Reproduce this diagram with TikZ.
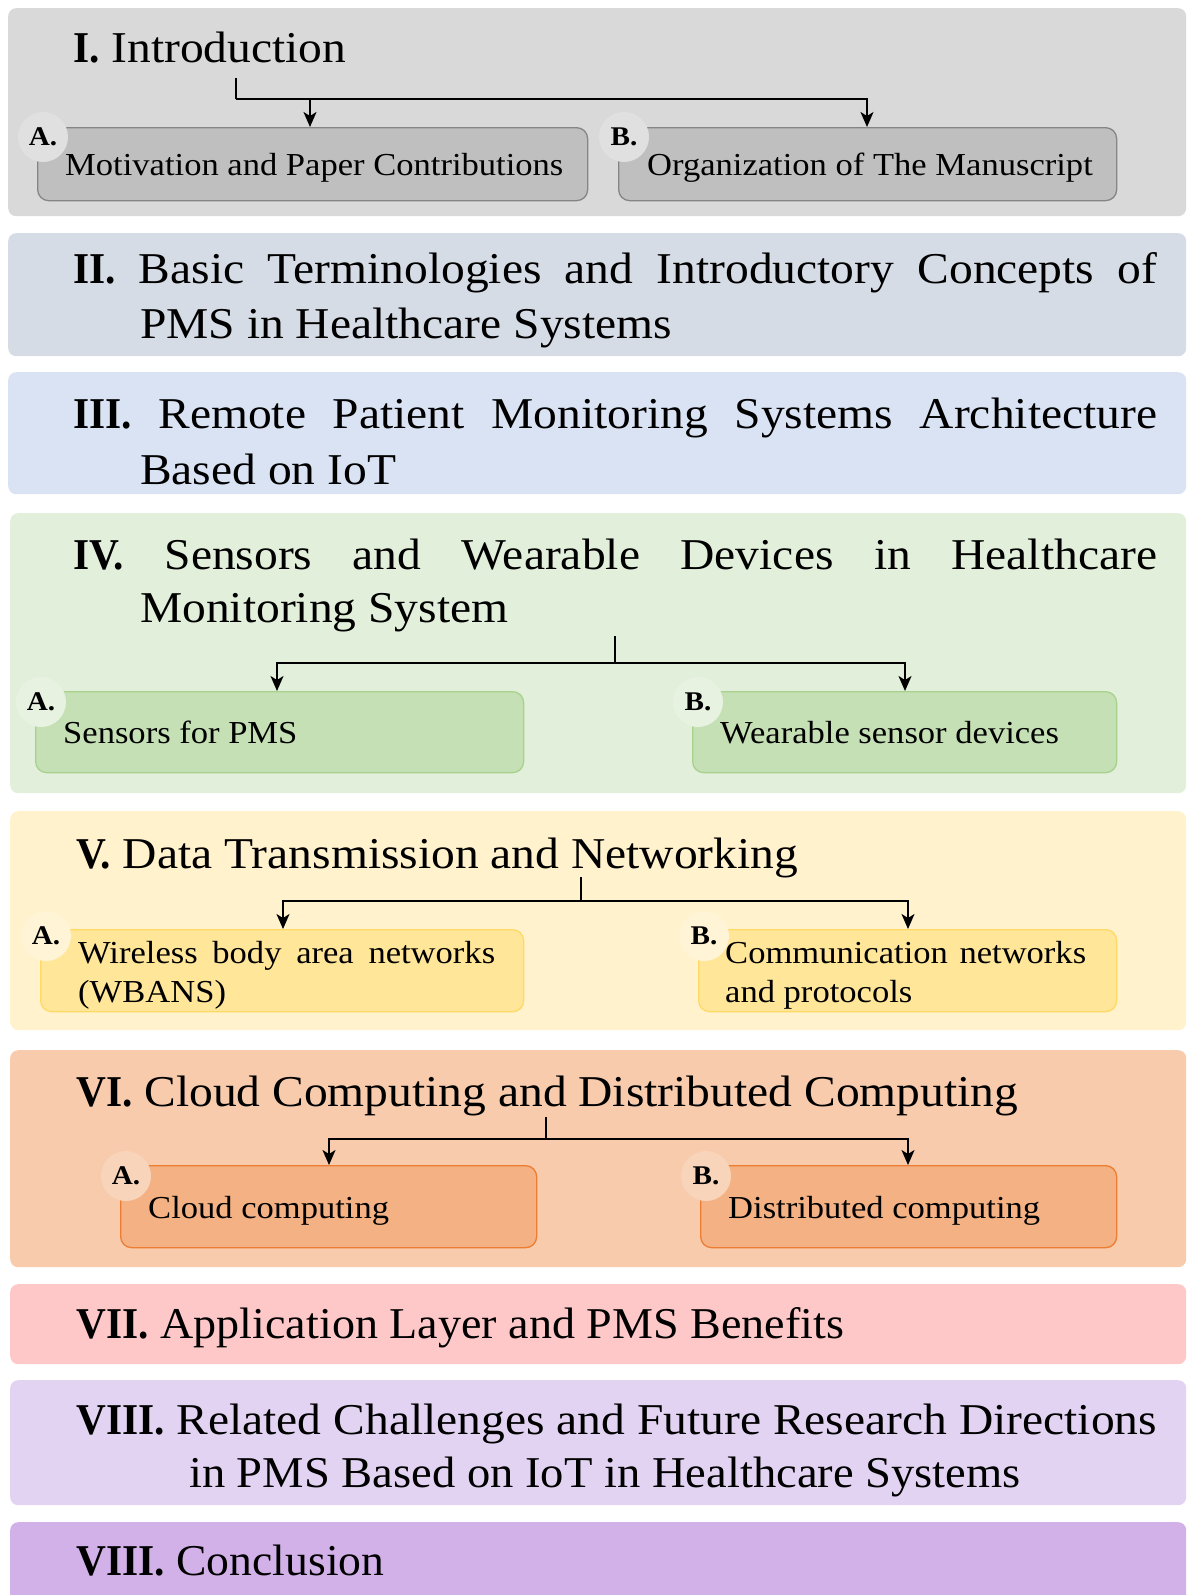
\documentclass[tikz,border=0pt]{standalone}
\usepackage{fontspec}
\setmainfont{Liberation Serif}[FakeStretch=1.08]
\usetikzlibrary{arrows.meta,calc}

% section colours
\definecolor{bgI}{HTML}{D9D9D9}\definecolor{subI}{HTML}{BFBFBF}\definecolor{lnI}{HTML}{858585}
\definecolor{bgII}{HTML}{D6DCE5}
\definecolor{bgIII}{HTML}{DAE3F3}
\definecolor{bgIV}{HTML}{E2EFDA}\definecolor{subIV}{HTML}{C5E0B4}\definecolor{lnIV}{HTML}{A9D18E}
\definecolor{bgV}{HTML}{FFF2CC}\definecolor{subV}{HTML}{FFE699}\definecolor{lnV}{HTML}{FFD966}
\definecolor{bgVI}{HTML}{F7CBAC}\definecolor{subVI}{HTML}{F4B183}\definecolor{lnVI}{HTML}{ED7D31}
\definecolor{bgVII}{HTML}{FEC8C8}
\definecolor{bgVIII}{HTML}{E3D3F2}
\definecolor{bgIX}{HTML}{D2B0E8}

% bold section numbers, set a little narrower than the body text
\newcommand{\secno}[1]{\scalebox{0.87}[1]{\textbf{#1}}}

\tikzset{
  secbox/.style={rectangle, rounded corners=8pt, draw=none, anchor=north west, inner sep=0pt},
  subbox/.style={rectangle, rounded corners=11pt, line width=1.3pt, anchor=north west, inner sep=0pt},
  lab/.style={circle, minimum size=50pt, inner sep=0pt, draw=none,
              font=\fontsize{27}{27}\selectfont\bfseries},
  conn/.style={line width=1.7pt},
  arr/.style={conn, -{Stealth[length=15pt,width=13pt,inset=4pt]}},
  ttl/.style={anchor=base west, inner sep=0pt, font=\fontsize{44}{53}\selectfont},
  stxt/.style={anchor=base west, inner sep=0pt, font=\fontsize{32}{39}\selectfont},
}

\begin{document}
\begin{tikzpicture}[x=1pt,y=-1pt]
\useasboundingbox (0,0) rectangle (1188,1595);

% ---------- section backgrounds ----------
\node[secbox, fill=bgI,    minimum width=1178pt, minimum height=208pt] (s1) at (8,8) {};
\node[secbox, fill=bgII,   minimum width=1178pt, minimum height=123pt] (s2) at (8,233) {};
\node[secbox, fill=bgIII,  minimum width=1178pt, minimum height=122pt] (s3) at (8,372) {};
\node[secbox, fill=bgIV,   minimum width=1176pt, minimum height=280pt] (s4) at (10,513) {};
\node[secbox, fill=bgV,    minimum width=1176pt, minimum height=219pt] (s5) at (10,811) {};
\node[secbox, fill=bgVI,   minimum width=1176pt, minimum height=217pt] (s6) at (10,1050) {};
\node[secbox, fill=bgVII,  minimum width=1176pt, minimum height=80pt]  (s7) at (10,1284) {};
\node[secbox, fill=bgVIII, minimum width=1176pt, minimum height=125pt] (s8) at (10,1380) {};
\node[secbox, fill=bgIX,   minimum width=1176pt, minimum height=90pt]  (s9) at (10,1522) {};

% ---------- section titles ----------
\node[ttl] (t1) at (73,63) {\secno{I.} Introduction};

\node[ttl] (t2a) at (73,283) {\makebox[1084pt][s]{\secno{II.} Basic Terminologies and Introductory Concepts of}};
\node[ttl] (t2b) at (140,338) {PMS in Healthcare Systems};

\node[ttl] (t3a) at (73,428) {\makebox[1084pt][s]{\secno{III.} Remote Patient Monitoring Systems Architecture}};
\node[ttl] (t3b) at (140,484) {Based on IoT};

\node[ttl] (t4a) at (73,569) {\makebox[1084pt][s]{\secno{IV.} Sensors and Wearable Devices in Healthcare}};
\node[ttl] (t4b) at (140,622) {Monitoring System};

\node[ttl] (t5) at (76,868) {\secno{V.} Data Transmission and Networking};
\node[ttl] (t6) at (76,1106) {\secno{VI.} Cloud Computing and Distributed Computing};
\node[ttl] (t7) at (76,1338) {\secno{VII.} \scalebox{0.97}[1]{Application Layer and PMS Benefits}};
\node[ttl] (t8a) at (76,1434) {\secno{VIII.} Related Challenges and Future Research Directions};
\node[ttl, anchor=base] (t8b) at (605,1487) {\scalebox{0.98}[1]{in PMS Based on IoT in Healthcare Systems}};
\node[ttl] (t9) at (76,1575) {\secno{VIII.} \scalebox{0.96}[1]{Conclusion}};

% ---------- sub-section boxes ----------
\node[subbox, fill=subI, draw=lnI, minimum width=550pt, minimum height=73pt] (ia) at (37,127) {};
\node[subbox, fill=subI, draw=lnI, minimum width=498pt, minimum height=73pt] (ib) at (618,127) {};

\node[subbox, fill=subIV, draw=lnIV, minimum width=488pt, minimum height=81pt] (iva) at (35,691) {};
\node[subbox, fill=subIV, draw=lnIV, minimum width=424pt, minimum height=81pt] (ivb) at (692,691) {};

\node[subbox, fill=subV, draw=lnV, minimum width=483pt, minimum height=82pt] (va) at (40,929) {};
\node[subbox, fill=subV, draw=lnV, minimum width=418pt, minimum height=82pt] (vb) at (698,929) {};

\node[subbox, fill=subVI, draw=lnVI, minimum width=416pt, minimum height=82pt] (via) at (120,1165) {};
\node[subbox, fill=subVI, draw=lnVI, minimum width=416pt, minimum height=82pt] (vib) at (700,1165) {};

% ---------- letter badges ----------
\node[lab, fill=bgI!82!white]  (la1) at ($(ia.north west)+(6,10)$) {A.};
\node[lab, fill=bgI!82!white]  (lb1) at ($(ib.north west)+(6,10)$) {B.};
\node[lab, fill=bgIV!82!white] (la4) at ($(iva.north west)+(6,11)$) {A.};
\node[lab, fill=bgIV!82!white] (lb4) at ($(ivb.north west)+(6,11)$) {B.};
\node[lab, fill=bgV!82!white]  (la5) at ($(va.north west)+(6,7)$) {A.};
\node[lab, fill=bgV!82!white]  (lb5) at ($(vb.north west)+(6,7)$) {B.};
\node[lab, fill=bgVI!82!white] (la6) at ($(via.north west)+(6,11)$) {A.};
\node[lab, fill=bgVI!82!white] (lb6) at ($(vib.north west)+(6,11)$) {B.};

% ---------- sub-section texts ----------
\node[stxt] (xia) at (65,175) {Motivation and Paper Contributions};
\node[stxt] (xib) at (647,175) {Organization of The Manuscript};
\node[stxt] (xiva) at (63,743) {Sensors for PMS};
\node[stxt] (xivb) at (720,743) {Wearable sensor devices};
\node[stxt] (xva1) at (78,963) {\makebox[417pt][s]{Wireless body area networks}};
\node[stxt] (xva2) at (78,1002) {(WBANS)};
\node[stxt] (xvb1) at (725,963) {\makebox[361pt][s]{Communication networks}};
\node[stxt] (xvb2) at (725,1002) {and protocols};
\node[stxt] (xvia) at (148,1218) {Cloud computing};
\node[stxt] (xvib) at (728,1218) {Distributed computing};

% ---------- connectors ----------
\coordinate (j1) at (236,78);  \coordinate (h1) at (236,99);
\coordinate (a1) at (310,99);  \coordinate (b1) at (867,99);
\draw[conn] (j1) -- (h1);
\draw[arr] (h1) -- (a1) -- (a1 |- ia.north);
\draw[arr] (h1) -- (b1) -- (b1 |- ib.north);

\coordinate (j4) at (615,636); \coordinate (h4) at (615,663);
\coordinate (a4) at (277,663); \coordinate (b4) at (905,663);
\draw[conn] (j4) -- (h4);
\draw[arr] (h4) -- (a4) -- (a4 |- iva.north);
\draw[arr] (h4) -- (b4) -- (b4 |- ivb.north);

\coordinate (j5) at (581,877); \coordinate (h5) at (581,901);
\coordinate (a5) at (283,901); \coordinate (b5) at (908,901);
\draw[conn] (j5) -- (h5);
\draw[arr] (h5) -- (a5) -- (a5 |- va.north);
\draw[arr] (h5) -- (b5) -- (b5 |- vb.north);

\coordinate (j6) at (546,1117); \coordinate (h6) at (546,1139);
\coordinate (a6) at (329,1139); \coordinate (b6) at (908,1139);
\draw[conn] (j6) -- (h6);
\draw[arr] (h6) -- (a6) -- (a6 |- via.north);
\draw[arr] (h6) -- (b6) -- (b6 |- vib.north);
\end{tikzpicture}
\end{document}
